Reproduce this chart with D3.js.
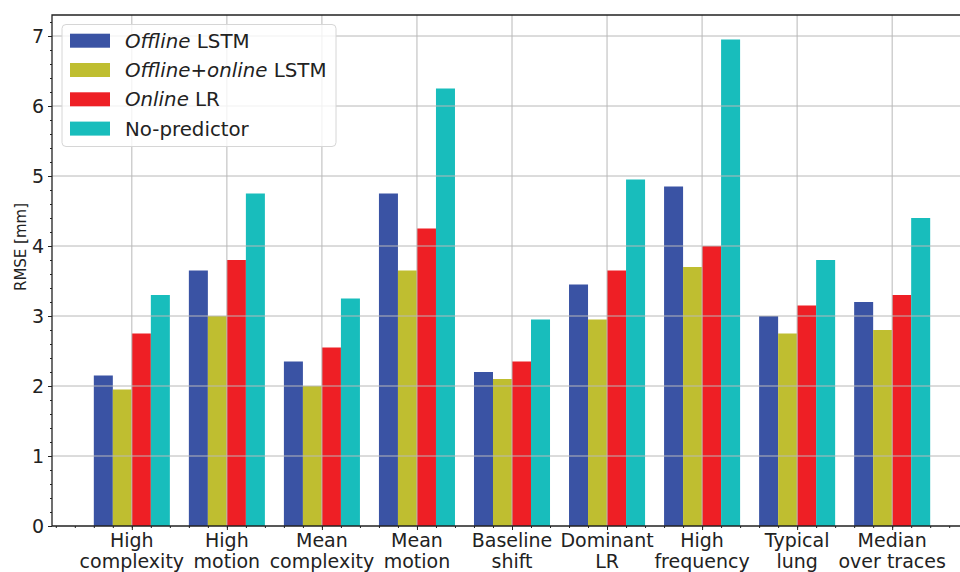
<!DOCTYPE html>
<html>
<head>
<meta charset="utf-8">
<script src="https://cdn.jsdelivr.net/npm/d3@7"></script>
<style>
  body { margin: 0; background: #fff; }
  svg { font-family: "DejaVu Sans", sans-serif; }
</style>
</head>
<body>
<script>
// categories, two lines each
var categories = [
    ["High", "complexity"], ["High", "motion"], ["Mean", "complexity"],
    ["Mean", "motion"], ["Baseline", "shift"], ["Dominant", "LR"],
    ["High", "frequency"], ["Typical", "lung"], ["Median", "over traces"]
];
var offlineLSTM       = [2.15, 3.65, 2.35, 4.75, 2.2, 3.45, 4.85, 3.0, 3.2];
var offlineOnlineLSTM = [1.95, 3.0, 2.0, 3.65, 2.1, 2.95, 3.7, 2.75, 2.8];
var onlineLR          = [2.75, 3.8, 2.55, 4.25, 2.35, 3.65, 4.0, 3.15, 3.3];
var noPredictor       = [3.3, 4.75, 3.25, 6.25, 2.95, 4.95, 6.95, 3.8, 4.4];
var yTicks = [0, 1, 2, 3, 4, 5, 6, 7];

var series = [
    {italic: "Offline", rest: " LSTM", color: "#3a53a4", values: offlineLSTM},
    {italic: "Offline+online", rest: " LSTM", color: "#bfbe30", values: offlineOnlineLSTM},
    {italic: "Online", rest: " LR", color: "#ee1f25", values: onlineLR},
    {italic: "", rest: "No-predictor", color: "#18bdbc", values: noPredictor}
];

var svgWidth = 960, svgHeight = 572;
// plot box; the right side is cut by the window
var m = {left: 52, top: 15, bottom: 526, right: 972};
var svg = d3.select("body").append("svg")
    .attr("width", svgWidth)
    .attr("height", svgHeight);

var x = d3.scaleLinear().domain([-0.84, 8.84]).range([m.left, m.right]);
var y = d3.scaleLinear().domain([0, 7.3]).range([m.bottom, m.top]);
var barW = 0.2;
var ink = "#222";

// bars
series.forEach(function(s, k) {
    svg.append("g").selectAll("rect")
        .data(s.values)
        .enter().append("rect")
        .attr("x", (d, i) => x(i + (k - 2) * barW))
        .attr("width", x(barW) - x(0))
        .attr("y", d => y(d))
        .attr("height", d => y(0) - y(d))
        .attr("fill", s.color);
});

// grid on top of the bars
var grid = svg.append("g").attr("stroke", "#b8b8b8").attr("stroke-width", 1);
grid.selectAll(".h").data(yTicks.slice(1)).enter().append("line")
    .attr("x1", m.left).attr("x2", m.right)
    .attr("y1", d => y(d)).attr("y2", d => y(d));
grid.selectAll(".v").data(categories).enter().append("line")
    .attr("y1", m.top).attr("y2", m.bottom)
    .attr("x1", (d, i) => x(i)).attr("x2", (d, i) => x(i));

// y axis
var yAxis = svg.append("g")
    .attr("transform", "translate(" + m.left + ",0)")
    .call(d3.axisLeft(y).tickValues(yTicks).tickSize(4).tickPadding(4).tickFormat(d3.format("d")));
yAxis.select(".domain").remove();
yAxis.selectAll("line").attr("stroke", ink);
yAxis.selectAll("text").attr("font-size", 19).attr("fill", ink).attr("font-family", "DejaVu Sans");
svg.append("g")
    .attr("transform", "translate(" + m.left + ",0)")
    .call(d3.axisLeft(y).tickValues(d3.range(0, 7.3, 0.2).filter(v => Math.abs(v - Math.round(v)) > 0.01))
        .tickSize(2).tickFormat(""))
    .call(g => g.select(".domain").remove())
    .selectAll("line").attr("stroke", ink);

// x axis
var xAxis = svg.append("g")
    .attr("transform", "translate(0," + m.bottom + ")")
    .call(d3.axisBottom(x).tickValues(d3.range(categories.length)).tickSize(4).tickFormat(""));
xAxis.select(".domain").remove();
xAxis.selectAll("line").attr("stroke", ink);
svg.append("g")
    .attr("transform", "translate(0," + m.bottom + ")")
    .call(d3.axisBottom(x).tickValues(d3.range(-0.8, 8.85, 0.2)).tickSize(2).tickFormat(""))
    .call(g => g.select(".domain").remove())
    .selectAll("line").attr("stroke", ink);

var labels = svg.append("g").attr("font-size", 19).attr("fill", ink).attr("text-anchor", "middle");
categories.forEach(function(c, i) {
    var t = labels.append("text").attr("x", x(i));
    t.append("tspan").attr("x", x(i)).attr("y", 546.5).text(c[0]);
    t.append("tspan").attr("x", x(i)).attr("y", 567.5).text(c[1]);
});

// spines
svg.append("path")
    .attr("d", "M" + m.right + "," + m.top + "H" + m.left + "V" + m.bottom + "H" + m.right)
    .attr("fill", "none").attr("stroke", ink).attr("stroke-width", 1.3);

// y label
svg.append("text")
    .attr("transform", "translate(26,247) rotate(-90)")
    .attr("text-anchor", "middle")
    .attr("font-size", 15)
    .attr("fill", ink)
    .text("RMSE [mm]");

// legend
var legend = svg.append("g");
legend.append("rect")
    .attr("x", 62).attr("y", 24.5).attr("width", 274).attr("height", 122)
    .attr("rx", 4).attr("fill", "#fff").attr("fill-opacity", 0.8)
    .attr("stroke", "#d6d6d6").attr("stroke-width", 1);
series.forEach(function(s, k) {
    var cy = 40.7 + k * 29.3;
    legend.append("rect")
        .attr("x", 70).attr("y", cy - 7).attr("width", 40).attr("height", 14)
        .attr("fill", s.color);
    var t = legend.append("text")
        .attr("x", 125).attr("y", cy + 7)
        .attr("font-size", 19.8).attr("fill", ink);
    if (s.italic) t.append("tspan").attr("font-style", "italic").text(s.italic);
    t.append("tspan").text(s.rest);
});
</script>
</body>
</html>
